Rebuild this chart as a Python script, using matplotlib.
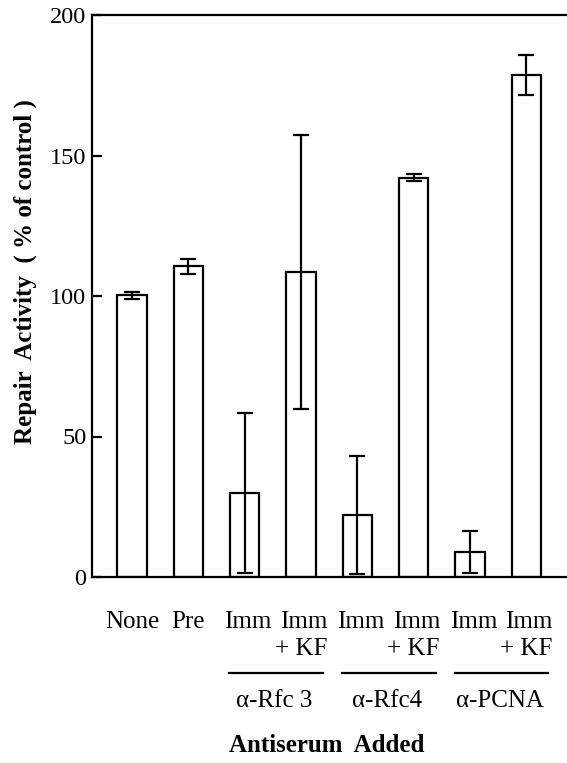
import matplotlib
matplotlib.use("Agg")
import matplotlib.pyplot as plt
import matplotlib.transforms as mtransforms
import numpy as np

plt.rcParams["font.family"] = ["Liberation Serif", "DejaVu Serif"]

# ── Data ───────────────────────────────────────────────────────────────
top_labels = ["None", "Pre", "Imm", "Imm\n+ KF", "Imm", "Imm\n+ KF", "Imm", "Imm\n+ KF"]
activity   = [100.3, 110.5, 30.0, 108.5, 22.0, 142.1, 9.0, 178.7]
act_err    = [1.3, 2.6, 28.5, 48.7, 21.0, 1.3, 7.5, 7.2]
groups     = ["\u03b1-Rfc 3", "\u03b1-Rfc4", "\u03b1-PCNA"]
group_bars = [(2, 3), (4, 5), (6, 7)]
yticks     = [0, 50, 100, 150, 200]

FS = 18

fig = plt.figure(figsize=(5.67, 7.63), dpi=100)
ax = fig.add_axes([92 / 567, 1 - 577 / 763, 1 - 92 / 567, (577 - 15) / 763])

x = np.arange(len(activity))
ax.bar(x, activity, width=0.52, color="white", edgecolor="black", linewidth=1.6, zorder=2)
ax.errorbar(x, activity, yerr=act_err, fmt="none", ecolor="black",
            elinewidth=1.6, capsize=5.5, capthick=1.6, zorder=3)

ax.set_xlim(-0.71, len(activity) - 1 + 0.72)
ax.set_ylim(0, 200)
ax.set_xticks([])
ax.set_yticks(yticks)
ax.tick_params(axis="y", direction="in", length=7, width=1.6, labelsize=17.5, pad=4)
for side in ["left", "top", "bottom"]:
    ax.spines[side].set_linewidth(1.6)
ax.spines["right"].set_visible(False)

# Category labels under the axis
trans = mtransforms.blended_transform_factory(ax.transData, fig.transFigure)
for xi, lab in zip(x, top_labels):
    shift = 0.06 if lab == "Imm" else 0.0
    ax.text(xi + shift, 1 - 611 / 763, lab, transform=trans, ha="center", va="top",
            multialignment="right", fontsize=FS, linespacing=1.3, clip_on=False)

# Group underlines and antibody names
for name, (a, b) in zip(groups, group_bars):
    ax.plot([a - 0.27, b + 0.39], [1 - 673 / 763] * 2, transform=trans,
            color="black", linewidth=1.6, clip_on=False)
    ax.text((a + b) / 2 + 0.03, 1 - 701 / 763, name, transform=trans,
            ha="center", va="center", fontsize=FS, clip_on=False)

fig.text(327 / 567, 1 - 745 / 763, "Antiserum  Added", ha="center", va="center",
         fontsize=FS, fontweight="bold")
fig.text(25 / 567, 1 - 272 / 763, "Repair  Activity  ( % of control )", rotation=90,
         ha="center", va="center", fontsize=FS, fontweight="bold")

fig.savefig("out.png", dpi=100)
